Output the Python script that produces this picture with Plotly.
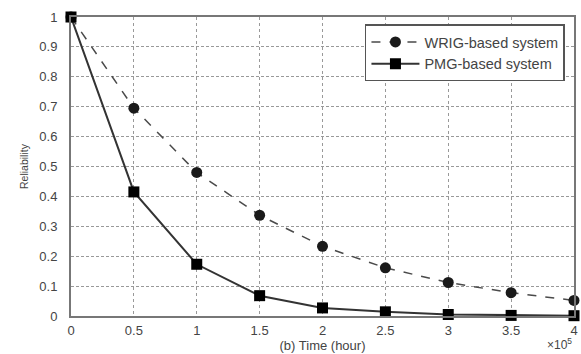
import plotly.graph_objects as go

time_x = [0, 0.5, 1, 1.5, 2, 2.5, 3, 3.5, 4]
wrig = [1.0, 0.695, 0.48, 0.337, 0.233, 0.161, 0.112, 0.078, 0.052]
pmg = [1.0, 0.415, 0.173, 0.068, 0.027, 0.014, 0.005, 0.002, 0.001]
x_ticks = [0, 0.5, 1, 1.5, 2, 2.5, 3, 3.5, 4]
x_tick_labels = ["0", "0.5", "1", "1.5", "2", "2.5", "3", "3.5", "4"]
y_ticks = [0, 0.1, 0.2, 0.3, 0.4, 0.5, 0.6, 0.7, 0.8, 0.9, 1]
y_tick_labels = ["0", "0.1", "0.2", "0.3", "0.4", "0.5", "0.6", "0.7", "0.8", "0.9", "1"]

fig = go.Figure()
fig.add_trace(go.Scatter(
    x=time_x, y=wrig, mode="lines+markers", name="WRIG-based system",
    line=dict(color="#4a4a4a", width=1.5, dash="dash"),
    marker=dict(symbol="circle", size=11, color="#1a1a1a"),
    cliponaxis=False,
))
fig.add_trace(go.Scatter(
    x=time_x, y=pmg, mode="lines+markers", name="PMG-based system",
    line=dict(color="#333333", width=2),
    marker=dict(symbol="square", size=11, color="#000000"),
    cliponaxis=False,
))

tick_font = dict(family="Liberation Sans, Arial, sans-serif", color="#444444", size=13)

fig.update_layout(
    width=581, height=354,
    margin=dict(l=71, r=3, t=17, b=38),
    paper_bgcolor="white", plot_bgcolor="white",
    font=dict(family="Liberation Sans, Arial, sans-serif", color="#444444", size=12),
    showlegend=True,
    legend=dict(
        x=0.982, xanchor="right", y=0.975, yanchor="top",
        bordercolor="#555555", borderwidth=1.5, bgcolor="white",
        font=dict(family="Liberation Sans, Arial, sans-serif", size=14.5, color="#444444"),
        tracegroupgap=0, itemwidth=48,
    ),
    xaxis=dict(
        range=[0, 4], tickvals=x_ticks, ticktext=x_tick_labels, tickfont=tick_font,
        showline=True, linecolor="#777777", linewidth=2, mirror=True,
        showgrid=True, gridcolor="#999999", gridwidth=1, griddash="dot",
        zeroline=False, ticks="", ticklen=0, ticklabelstandoff=1,
        title=dict(text="(b) Time (hour)", font=dict(size=13, color="#444444"), standoff=2),
    ),
    yaxis=dict(
        range=[0, 1], tickvals=y_ticks, ticktext=y_tick_labels, tickfont=tick_font,
        showline=True, linecolor="#777777", linewidth=2, mirror=True,
        showgrid=True, gridcolor="#999999", gridwidth=1, griddash="3px,2px",
        zeroline=False, ticks="", ticklen=0, ticklabelstandoff=9,
        title=dict(text="Reliability", font=dict(size=10.5, color="#444444"), standoff=9),
    ),
    annotations=[dict(
        text="×10<sup>5</sup>", xref="paper", yref="paper", x=1.0, y=-0.06,
        xanchor="right", yanchor="top", showarrow=False,
        font=dict(size=12, color="#444444"),
    )],
)

fig.write_html("out.html")
